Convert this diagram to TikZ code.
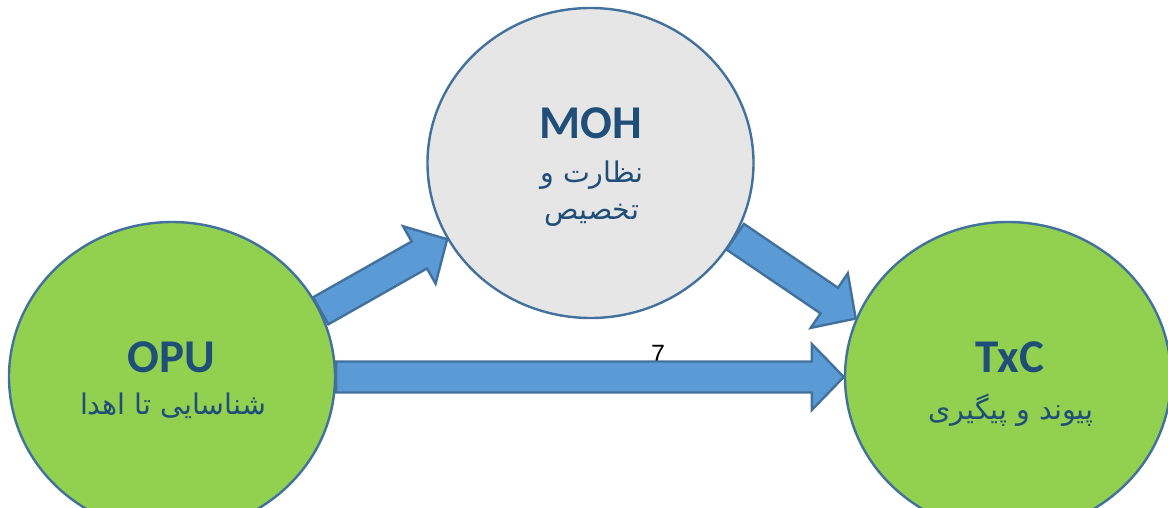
\documentclass[tikz,border=0pt]{standalone}
\usepackage{fontspec}
\usetikzlibrary{shapes.geometric,calc}
\setmainfont{Carlito}
\newfontfamily\arabicfont[Script=Arabic]{DejaVu Sans}
\newfontfamily\arialfont{Liberation Sans}
\TeXXeTstate=1
\definecolor{ringblue}{HTML}{41719C}
\definecolor{arrowfill}{HTML}{5B9BD5}
\definecolor{leafgreen}{HTML}{92D050}
\definecolor{mohgray}{HTML}{E7E6E6}
\definecolor{textblue}{HTML}{1F4E79}
\tikzset{
  ring/.style={ellipse, draw=ringblue, line width=2.4pt, minimum width=326pt, minimum height=310pt, inner sep=0pt},
  titletext/.style={font=\fontsize{47}{50}\selectfont\bfseries, text=textblue, inner sep=0pt},
  fatext/.style={font=\fontsize{28.5}{32}\selectfont\arabicfont, text=textblue, inner sep=0pt},
  blockarrowstyle/.style={fill=arrowfill, draw=ringblue, line width=2.4pt, line join=miter},
  numtext/.style={font=\fontsize{25}{28}\selectfont\arialfont, text=black, inner sep=0pt},
}
\newcommand{\blockarrow}[2]{%
  \path (#1) coordinate (bt) (#2) coordinate (bh);
  \path ($(bh)!32pt!(bt)$) coordinate (bm);
  \draw[blockarrowstyle] ($(bt)!15.5pt!90:(bh)$) -- ($(bm)!15.5pt!90:(bh)$) -- ($(bm)!33pt!90:(bh)$) -- (bh) -- ($(bm)!33pt!-90:(bh)$) -- ($(bm)!15.5pt!-90:(bh)$) -- ($(bt)!15.5pt!-90:(bh)$) -- cycle;
}
\begin{document}
\begin{tikzpicture}[x=1pt,y=-1pt]
\useasboundingbox (0,0) rectangle (1168,507);
\clip (0,0) rectangle (1168,507);
% circles
\node[ring, fill=leafgreen] (OPU) at (172,377) {};
\node[ring, fill=mohgray] (MOH) at (590.5,163) {};
\node[ring, fill=leafgreen] (TxC) at (1008,377) {};
% number label
\node[numtext] (seven) at (658,354) {7};
% arrows
\blockarrow{OPU.24.2}{MOH.208.2}
\blockarrow{MOH.-27.5}{TxC.159.2}
\blockarrow{OPU.east}{TxC.west}
% texts
\node[titletext] (OPUname) at (171,357.5) {OPU};
\node[fatext] (OPUrole) at (173,406) {\beginR شناسایی تا اهدا\endR};
\node[titletext] (MOHname) at (591,123) {MOH};
\node[fatext] (MOHrole1) at (592,175) {\beginR نظارت و\endR};
\node[fatext] (MOHrole2) at (592,215) {\beginR تخصیص\endR};
\node[titletext] (TxCname) at (1010,357.5) {TxC};
\node[fatext] (TxCrole) at (1011,410) {\beginR پیوند و پیگیری\endR};
\end{tikzpicture}
\end{document}
